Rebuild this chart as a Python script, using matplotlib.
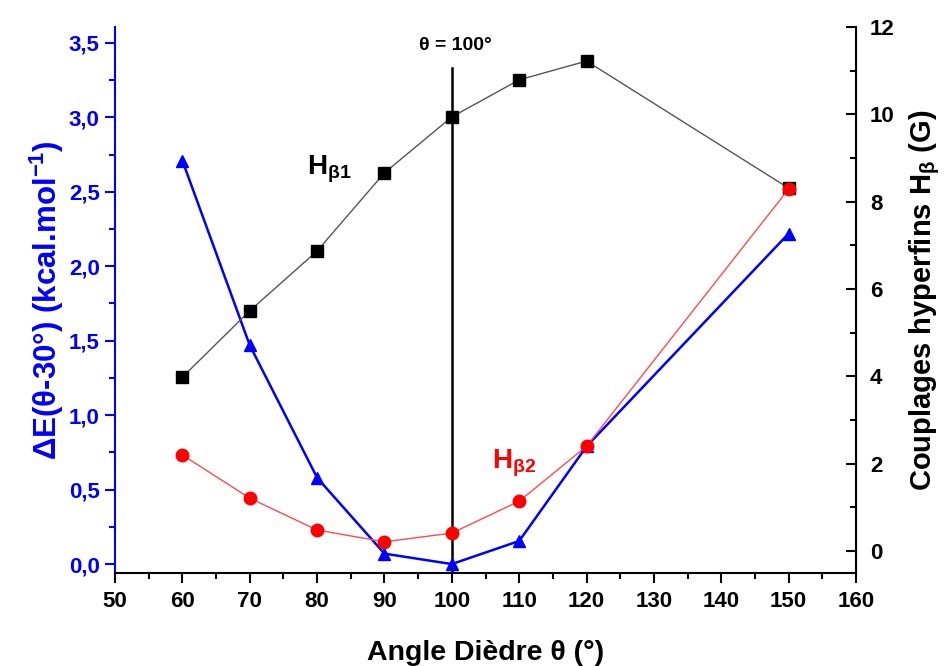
import matplotlib
matplotlib.use("Agg")
import matplotlib.pyplot as plt
from matplotlib.ticker import FuncFormatter, MultipleLocator

plt.rcParams['font.family'] = ['Liberation Sans', 'DejaVu Sans']
plt.rcParams['mathtext.fontset'] = 'custom'
plt.rcParams['mathtext.rm'] = 'Liberation Sans:bold'
plt.rcParams['mathtext.bf'] = 'Liberation Sans:bold'
plt.rcParams['mathtext.it'] = 'Liberation Sans:bold'

angles = [60, 70, 80, 90, 100, 110, 120, 150]
delta_e = [2.71, 1.47, 0.58, 0.07, 0.0, 0.155, 0.79, 2.22]
h_beta1 = [3.98, 5.50, 6.87, 8.66, 9.94, 10.79, 11.22, 8.31]
h_beta2 = [2.20, 1.21, 0.48, 0.21, 0.41, 1.14, 2.40, 8.29]

x_ticks = [50, 60, 70, 80, 90, 100, 110, 120, 130, 140, 150, 160]
left_ticks = [0.0, 0.5, 1.0, 1.5, 2.0, 2.5, 3.0, 3.5]
right_ticks = [0, 2, 4, 6, 8, 10, 12]
theta_ref = 100

blue = '#0000ff'

fig = plt.figure(figsize=(9.44, 6.66), dpi=100)
ax = fig.add_axes([115/944, 1-573/666, (856-115)/944, (573-27)/666])
ax2 = ax.twinx()

ax.plot(angles, delta_e, color=blue, lw=1.8, marker='^', ms=9, mfc=blue, mec=blue, zorder=3)
ax2.plot(angles, h_beta1, color='#555555', lw=1.0, marker='s', ms=8.5, mfc='black', mec='black', zorder=4)
ax2.plot(angles, h_beta2, color='#ff4a4a', lw=1.0, marker='o', ms=9, mfc='#ff0000', mec='#ff0000', zorder=4)

ax.set_xlim(50, 160)
ax.set_ylim(-0.06, 3.607)
ax2.set_ylim(-0.504, 12)

ax.set_xticks(x_ticks)
ax.set_yticks(left_ticks)
ax2.set_yticks(right_ticks)
ax.xaxis.set_minor_locator(MultipleLocator(5))
ax.yaxis.set_minor_locator(MultipleLocator(0.25))
ax2.yaxis.set_minor_locator(MultipleLocator(1))
ax.yaxis.set_major_formatter(FuncFormatter(lambda v, p: f"{v:.1f}".replace('.', ',')))

ax.tick_params(axis='x', which='major', direction='out', length=7, width=1.5, labelsize=16, pad=6)
ax.tick_params(axis='x', which='minor', direction='out', length=4, width=1.5)
ax.tick_params(axis='y', which='major', direction='out', length=7, width=1.5, labelsize=16,
               colors=blue, labelcolor=blue, pad=4)
ax.tick_params(axis='y', which='minor', direction='out', length=4, width=1.5, colors=blue)
ax2.tick_params(axis='y', which='major', direction='in', length=7, width=1.5, labelsize=16, pad=10)
ax2.tick_params(axis='y', which='minor', direction='in', length=4, width=1.5)
for lab in ax.get_xticklabels() + ax.get_yticklabels() + ax2.get_yticklabels():
    lab.set_fontweight('bold')

for a in (ax, ax2):
    a.spines['top'].set_visible(False)
ax.spines['left'].set_color(blue)
ax.spines['left'].set_linewidth(1.5)
ax.spines['bottom'].set_linewidth(1.5)
ax2.spines['left'].set_visible(False)
ax2.spines['right'].set_linewidth(1.5)
ax2.spines['bottom'].set_visible(False)

ax.set_xlabel('Angle Dièdre θ (°)', fontsize=20.5, fontweight='bold', labelpad=20)
ax.set_ylabel('ΔE(θ-30°) (kcal.mol$^{-1}$)', fontsize=22.5, fontweight='bold', color=blue, labelpad=2)
ax2.set_ylabel(r'Couplages hyperfins H$_{\beta}$ (G)', fontsize=21, fontweight='bold', labelpad=9)

ax.axvline(theta_ref, ymin=0, ymax=(573-68)/(573-27), color='black', lw=1.8, zorder=2)
ax.text(theta_ref + 0.6, (573-45)/(573-27), 'θ = 100°', transform=ax.get_xaxis_transform(),
        ha='center', va='center', fontsize=14, fontweight='bold')

ax2.text(81.8, 8.75, r'H$_{\beta 1}$', fontsize=20, fontweight='bold', color='black', ha='center', va='center')
ax2.text(109.2, 2.0, r'H$_{\beta 2}$', fontsize=20, fontweight='bold', color='#ff0000', ha='center', va='center')

fig.savefig('out.png', dpi=100)
